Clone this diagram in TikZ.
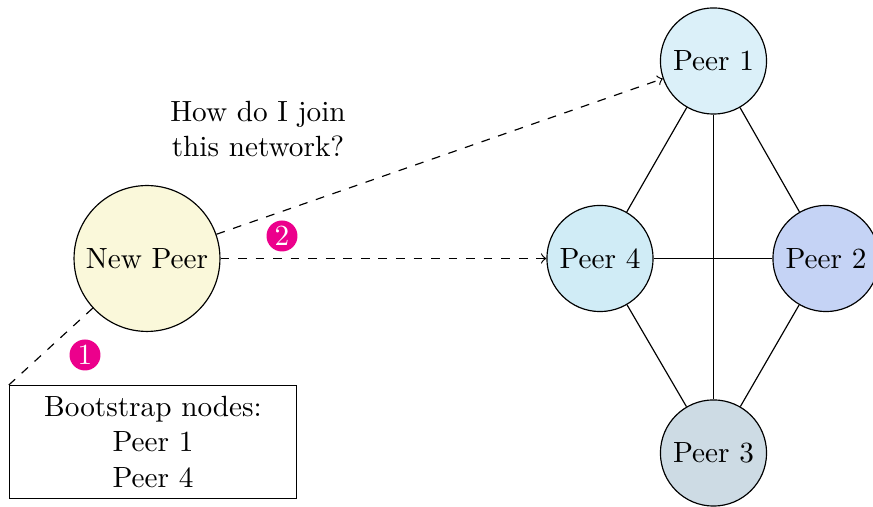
\documentclass[tikz,border=0pt]{standalone}
\begin{document}
\begin{tikzpicture}[x=0.342pt,y=-0.342pt,
  peer/.style={circle,draw,minimum size=36.3pt,inner sep=0pt},
  badge/.style={circle,fill=badgepink,text=white,inner sep=0pt,minimum size=10.6pt},
  link/.style={draw},
  probe/.style={draw,dashed,->}]
\definecolor{badgepink}{RGB}{236,0,140}
\definecolor{newfill}{RGB}{250,248,218}
\definecolor{p1fill}{RGB}{219,240,249}
\definecolor{p2fill}{RGB}{197,211,245}
\definecolor{p3fill}{RGB}{205,219,228}
\definecolor{p4fill}{RGB}{208,236,246}
\useasboundingbox (0,0) rectangle (873,507);

% peers of the network
\node[peer,fill=p1fill] (p1) at (713.5,61) {Peer 1};
\node[peer,fill=p2fill] (p2) at (826,258.5) {Peer 2};
\node[peer,fill=p3fill] (p3) at (713.5,453) {Peer 3};
\node[peer,fill=p4fill] (p4) at (600,258.5) {Peer 4};

% newcomer and its bootstrap list
\node[peer,fill=newfill,minimum size=49.9pt] (np) at (147,258.5) {New Peer};
\node[draw,align=center,minimum width=98.2pt,minimum height=38.6pt,inner sep=0pt]
  (boot) at (153,442) {Bootstrap nodes:\\Peer 1\\Peer 4};
\node[align=center] (ask) at (258,129) {How do I join\\this network?};

% mesh links
\draw[link] (p1) -- (p4);
\draw[link] (p1) -- (p2);
\draw[link] (p1) -- (p3);
\draw[link] (p4) -- (p2);
\draw[link] (p4) -- (p3);
\draw[link] (p2) -- (p3);

% join steps
\draw[dashed] (np) -- (boot.north west);
\draw[probe] (np) -- (p1);
\draw[probe] (np) -- (p4);
\node[badge] (b1) at (85,355) {1};
\node[badge] (b2) at (282,236) {2};
\end{tikzpicture}
\end{document}
